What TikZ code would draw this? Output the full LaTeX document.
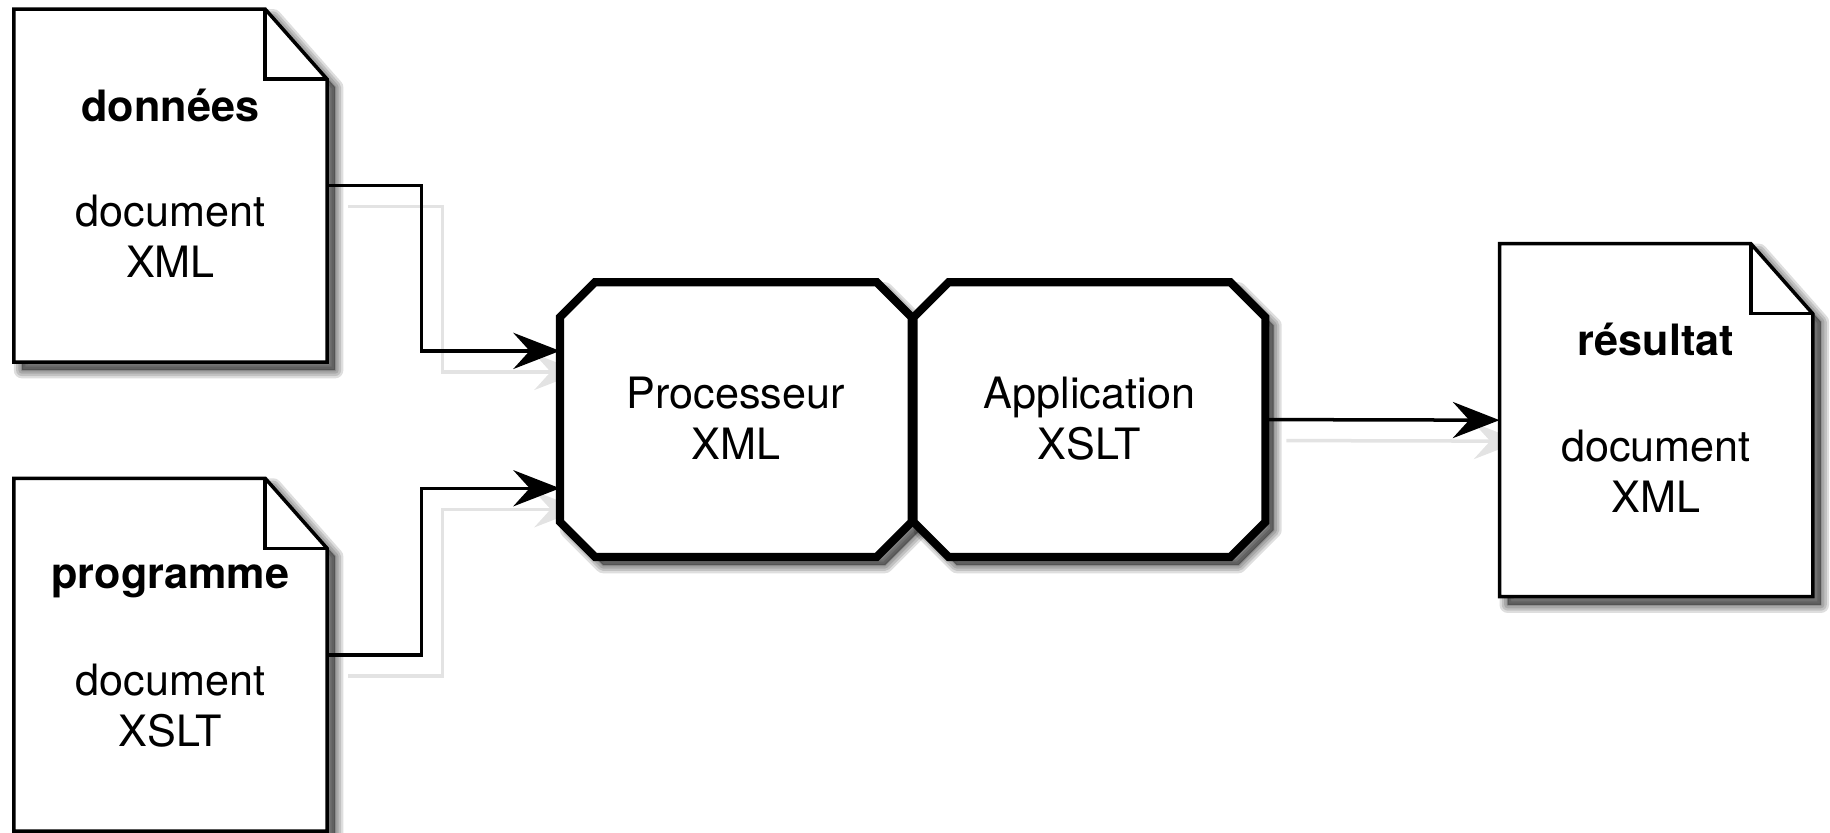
\documentclass[tikz,border=0pt]{standalone}
\usepackage{fontspec}
\setmainfont{TeX Gyre Heros}
\usetikzlibrary{arrows.meta,calc}
\newcommand\mydocpath[2]{%
  \path[#2] (#1.north west) -- ($(#1.north east)+(-53,0)$) -- ($(#1.north east)+(0,60)$) -- (#1.south east) -- (#1.south west) -- cycle;}
\newcommand\mydocfold[2]{%
  \path[#2] ($(#1.north east)+(-53,0)$) -- ($(#1.north east)+(-53,60)$) -- ($(#1.north east)+(0,60)$);}
\newcommand\myoctpath[2]{%
  \path[#2] ($(#1.north west)+(0,30)$) -- ($(#1.north west)+(30,0)$) -- ($(#1.north east)+(-30,0)$) -- ($(#1.north east)+(0,30)$) -- ($(#1.south east)+(0,-30)$) -- ($(#1.south east)+(-30,0)$) -- ($(#1.south west)+(30,0)$) -- ($(#1.south west)+(0,-30)$) -- cycle;}
\newcommand\myshadows[1]{%
  \foreach \w in {14,10,6,2}{%
    \mydocpath{donnees}{#1, line width=\w pt}
    \mydocpath{programme}{#1, line width=\w pt}
    \mydocpath{res}{#1, line width=\w pt}
    \myoctpath{proc}{#1, line width=\w pt}
    \myoctpath{app}{#1, line width=\w pt}
  }}
\begin{document}
\begin{tikzpicture}[x=1pt,y=-1pt,
  docbox/.style={minimum width=268pt, minimum height=302pt, inner sep=0pt},
  procbox/.style={minimum width=301pt, minimum height=235pt, inner sep=0pt},
  docline/.style={draw=black, fill=white, line width=3pt, line join=miter},
  foldline/.style={draw=black, line width=3pt, line join=miter},
  octline/.style={draw=black, fill=white, line width=7pt, line join=miter},
  lbl/.style={font=\fontsize{37}{44}\selectfont, anchor=base, inner sep=0pt},
  blbl/.style={font=\fontsize{37}{44}\selectfont\bfseries, anchor=base, inner sep=0pt},
  conn/.style={line width=3pt, -{Stealth[length=40pt,width=31pt,inset=14pt]}},
  connshadow/.style={conn, draw=gray!22},
  shadowlayer/.style={fill=black, draw=black, fill opacity=0.13, draw opacity=0.13, line join=round},
]
\useasboundingbox (0,0) rectangle (1568,713);

% anchor nodes
\node[docbox] (donnees) at (146,159) {};
\node[docbox] (programme) at (146,561) {};
\node[docbox] (res) at (1419,360) {};
\node[procbox] (proc) at (630.5,359.5) {};
\node[procbox] (app) at (933.5,359.5) {};

% connector shadows
\begin{scope}[transform canvas={shift={(18pt,-18pt)}}]
  \draw[connshadow] (donnees.east) -- ++(81,0) |- ($(proc.north west)!0.25!(proc.south west)$);
  \draw[connshadow] (programme.east) -- ++(81,0) |- ($(proc.north west)!0.75!(proc.south west)$);
  \draw[connshadow] (app.east) -- (res.west);
\end{scope}

% shape shadows (soft)
\begin{scope}[transform canvas={shift={(7pt,-7pt)}}]
  \myshadows{shadowlayer}
\end{scope}

% shapes
\mydocpath{donnees}{docline}
\mydocfold{donnees}{foldline}
\mydocpath{programme}{docline}
\mydocfold{programme}{foldline}
\mydocpath{res}{docline}
\mydocfold{res}{foldline}
\myoctpath{proc}{octline}
\myoctpath{app}{octline}

% texts
\node[blbl] (t1a) at (146,104) {données};
\node[lbl] (t1b) at (146,194) {document};
\node[lbl] (t1c) at (146,238) {XML};
\node[blbl] (t2a) at (146,504) {programme};
\node[lbl] (t2b) at (146,596) {document};
\node[lbl] (t2c) at (146,640) {XSLT};
\node[blbl] (t3a) at (1419,305) {résultat};
\node[lbl] (t3b) at (1419,395) {document};
\node[lbl] (t3c) at (1419,439) {XML};
\node[lbl] (t4a) at (630.5,350) {Processeur};
\node[lbl] (t4b) at (630.5,394) {XML};
\node[lbl] (t5a) at (933.5,350) {Application};
\node[lbl] (t5b) at (933.5,394) {XSLT};

% connectors
\draw[conn] (donnees.east) -- ++(81,0) |- ($(proc.north west)!0.25!(proc.south west)$);
\draw[conn] (programme.east) -- ++(81,0) |- ($(proc.north west)!0.75!(proc.south west)$);
\draw[conn] (app.east) -- (res.west);
\end{tikzpicture}
\end{document}
